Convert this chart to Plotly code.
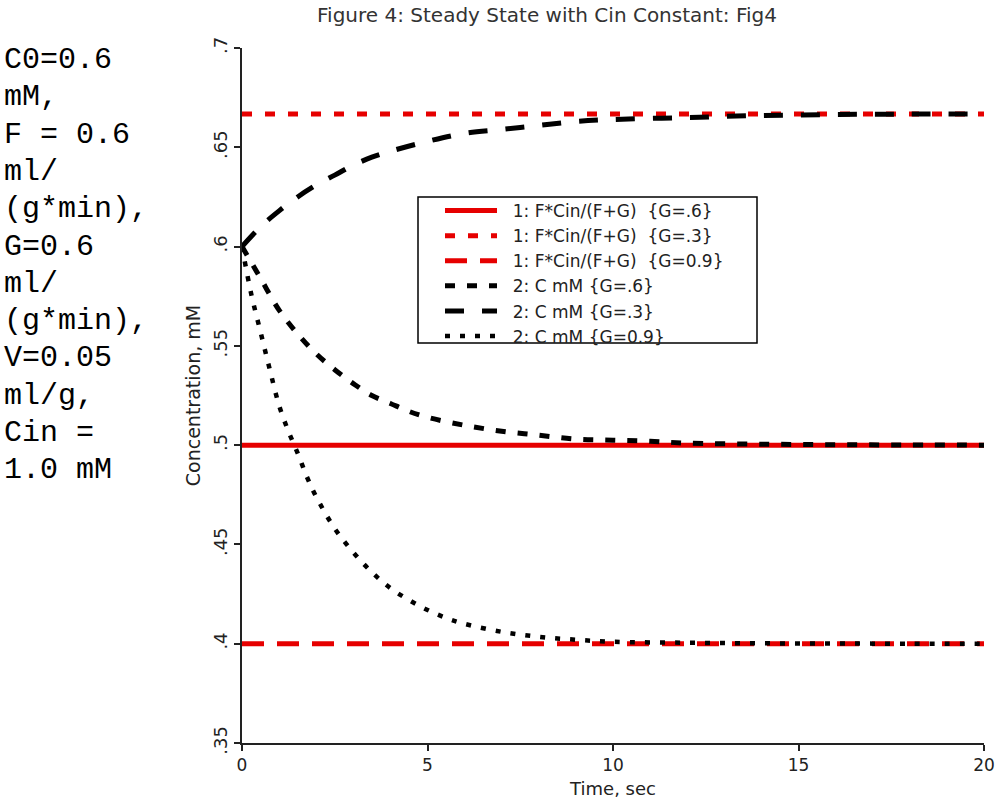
import plotly.graph_objects as go

# ---------------- data ----------------
ss_time = [0, 20]
ss_G06 = [0.5, 0.5]
ss_G03 = [0.6667, 0.6667]
ss_G09 = [0.4, 0.4]

time_G06 = [0, 0.5, 1, 1.5, 2, 2.5, 3, 3.5, 4, 4.5, 5, 6, 7, 8, 9, 10, 11, 12, 14, 16, 18, 20]
C_G06 = [0.600, 0.584, 0.568, 0.556, 0.546, 0.538, 0.531, 0.525, 0.521, 0.517, 0.514,
         0.510, 0.507, 0.505, 0.503, 0.5025, 0.502, 0.501, 0.5005, 0.5002, 0.5001, 0.500]

time_G03 = [0, 0.5, 1, 1.5, 2, 2.5, 3, 3.5, 4, 5, 6, 7, 8, 9, 10, 12, 14, 16, 18, 20]
C_G03 = [0.600, 0.610, 0.618, 0.625, 0.631, 0.636, 0.641, 0.645, 0.648, 0.653,
         0.657, 0.659, 0.661, 0.663, 0.664, 0.665, 0.666, 0.6665, 0.6667, 0.6667]

time_G09 = [0, 0.25, 0.5, 0.75, 1, 1.25, 1.5, 1.75, 2, 2.5, 3, 3.5, 4, 4.5, 5, 5.5, 6,
            7, 8, 9, 10, 12, 14, 16, 18, 20]
C_G09 = [0.600, 0.576, 0.557, 0.538, 0.520, 0.507, 0.496, 0.484, 0.474, 0.458, 0.446,
         0.436, 0.428, 0.422, 0.417, 0.413, 0.410, 0.406, 0.4035, 0.402, 0.401, 0.4005,
         0.4002, 0.4001, 0.400, 0.400]

y_tickvals = [0.35, 0.4, 0.45, 0.5, 0.55, 0.6, 0.65, 0.7]
y_ticktext = [".35", ".4", ".45", ".5", ".55", ".6", ".65", ".7"]
x_tickvals = [0, 5, 10, 15, 20]

series_names = ["1: F*Cin/(F+G)  {G=.6}", "1: F*Cin/(F+G)  {G=.3}", "1: F*Cin/(F+G)  {G=0.9}",
                "2: C mM {G=.6}", "2: C mM {G=.3}", "2: C mM {G=0.9}"]

side_text = ["C0=0.6", "mM,", "F = 0.6", "ml/", "(g*min),", "G=0.6", "ml/",
             "(g*min),", "V=0.05", "ml/g,", "Cin =", "1.0 mM"]

# ---------------- styling / layout ----------------
RED = "#e60000"
BLK = "#000000"
W, H = 996, 805
L, R, T, B = 242, 12, 48, 62
PW, PH = W - L - R, H - T - B
PAD = "\u00a0\u00a0"


def px_x(px):
    return (px - L) / PW


def px_y(py):
    return (H - B - py) / PH


fig = go.Figure()
fig.add_trace(go.Scatter(x=ss_time, y=ss_G06, mode="lines", name=PAD + series_names[0],
                         line=dict(color=RED, width=5)))
fig.add_trace(go.Scatter(x=ss_time, y=ss_G03, mode="lines", name=PAD + series_names[1],
                         line=dict(color=RED, width=5, dash="10px,13px")))
fig.add_trace(go.Scatter(x=ss_time, y=ss_G09, mode="lines", name=PAD + series_names[2],
                         line=dict(color=RED, width=5, dash="22px,13px")))
fig.add_trace(go.Scatter(x=time_G06, y=C_G06, mode="lines", name=PAD + series_names[3],
                         line=dict(color=BLK, width=5, dash="10px,12px", shape="spline")))
fig.add_trace(go.Scatter(x=time_G03, y=C_G03, mode="lines", name=PAD + series_names[4],
                         line=dict(color=BLK, width=5, dash="19px,18px", shape="spline")))
fig.add_trace(go.Scatter(x=time_G09, y=C_G09, mode="lines", name=PAD + series_names[5],
                         line=dict(color=BLK, width=4.5, dash="5px,10px", shape="spline")))

FONT = "DejaVu Sans"
annotations = []
for i, t in enumerate(side_text):
    annotations.append(dict(
        text=t, xref="paper", yref="paper", x=px_x(2), y=px_y(60 + i * 37.3),
        xanchor="left", yanchor="middle", showarrow=False,
        font=dict(family="Liberation Mono", size=30, color="#000")))

# legend frame (box drawn around the legend entries)
shapes = [dict(type="rect", xref="paper", yref="paper",
               x0=px_x(418), x1=px_x(757), y0=px_y(343), y1=px_y(197),
               line=dict(color="#000", width=1.5), fillcolor="white", layer="above")]

fig.update_layout(
    width=W, height=H,
    margin=dict(l=L, r=R, t=T, b=B, autoexpand=False),
    paper_bgcolor="white", plot_bgcolor="white",
    font=dict(family=FONT, color="#222"),
    title=dict(text="Figure 4: Steady State with Cin Constant: Fig4",
               x=px_x(547), xref="paper", xanchor="center",
               y=1 - 15 / H, yanchor="middle",
               font=dict(family=FONT, size=20, color="#333")),
    xaxis=dict(range=[0, 20], tickvals=x_tickvals, showgrid=False, zeroline=False,
               automargin=False,
               showline=True, linecolor="#222", linewidth=2, ticks="outside",
               ticklen=6, tickwidth=2, tickcolor="#222",
               tickfont=dict(size=17, color="#222"),
               title=dict(text="Time, sec", font=dict(size=18, color="#222"), standoff=8)),
    yaxis=dict(range=[0.35, 0.7], tickvals=y_tickvals, ticktext=y_ticktext,
               automargin=False,
               tickangle=-90, showgrid=False, zeroline=False,
               showline=True, linecolor="#222", linewidth=2, ticks="outside",
               ticklen=6, tickwidth=2, tickcolor="#222",
               tickfont=dict(size=18, color="#222"),
               title=dict(text="Concentration, mM", font=dict(size=19, color="#222"),
                          standoff=4)),
    legend=dict(x=px_x(440), y=px_y(193), xanchor="left", yanchor="top",
                bgcolor="rgba(0,0,0,0)", borderwidth=0,
                font=dict(size=17, color="#222"), itemwidth=52,
                tracegroupgap=0),
    showlegend=True,
    shapes=shapes,
    annotations=annotations,
)

fig.write_html("out.html", config={"displayModeBar": False},
               post_script="document.body.style.margin='0';document.body.style.overflow='hidden';")
